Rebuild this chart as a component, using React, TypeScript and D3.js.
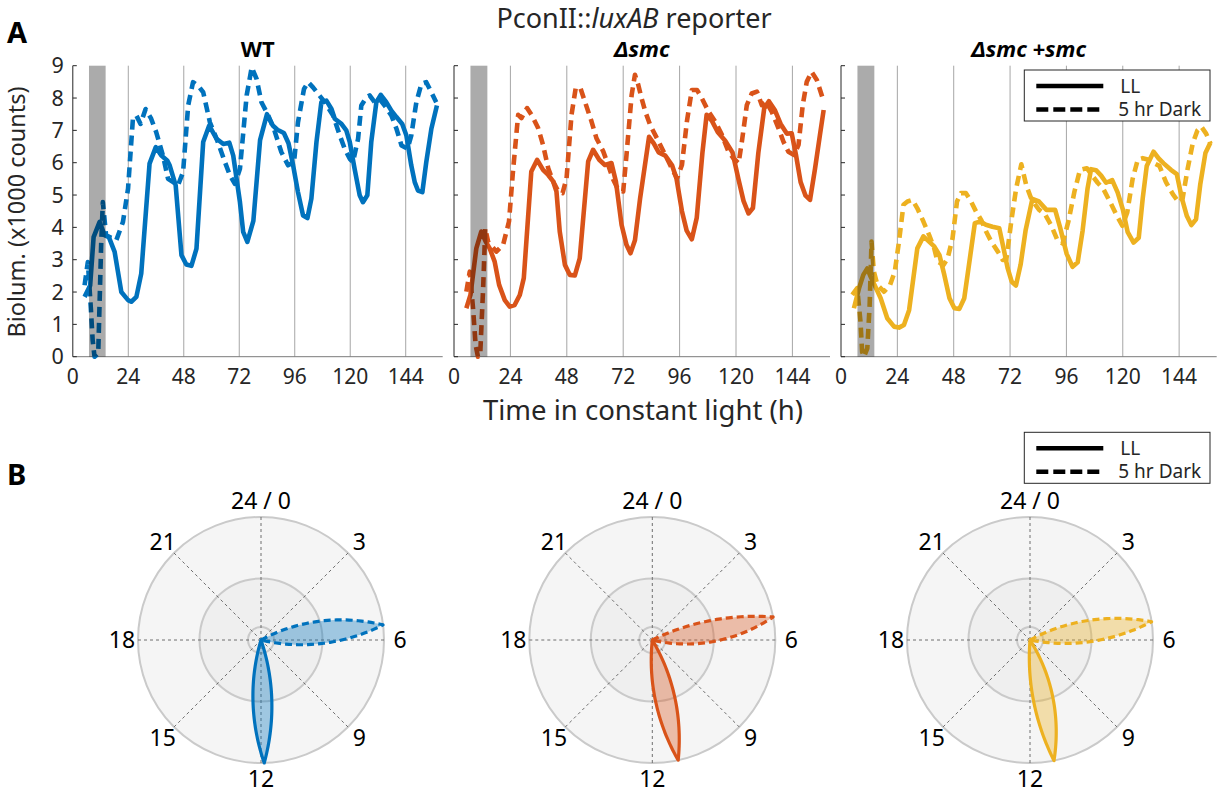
import React from 'react';
import * as d3 from 'd3';

type Pt = [number, number];

const COLORS = ['#0072BD', '#D95319', '#EDB120'];
const STRAINS = ['WT', 'Δsmc', 'Δsmc +smc'];
const X_TICKS = [0, 24, 48, 72, 96, 120, 144];
const Y_TICKS = [0, 1, 2, 3, 4, 5, 6, 7, 8, 9];
const DARK_WINDOW = [7, 14.2];
const CLOCK_TICKS = [0, 3, 6, 9, 12, 15, 18, 21];
const CLOCK_LABELS = ['24 / 0', '3', '6', '9', '12', '15', '18', '21'];

// time (h), bioluminescence (x1000 counts)
const wtLL: Pt[] = [[5.1,1.85],[7.5,2.2],[9.0,3.7],[11.6,4.17],[13.7,3.76],[15.6,3.7],[18.1,3.24],[21,2.0],[23.9,1.75],[25.3,1.7],[27.5,1.85],[29.6,2.57],[33.2,5.97],[35.9,6.48],[38.3,6.22],[40.8,6.07],[41.9,5.92],[44.5,5.3],[47,3.14],[49.1,2.85],[51.3,2.81],[53.5,3.34],[56.4,6.64],[59,7.15],[62.2,6.74],[65.1,6.58],[67.7,6.62],[69.4,6.22],[72.3,4.78],[73.7,3.86],[75.5,3.55],[78.1,4.2],[81,6.7],[84,7.5],[86.5,7.15],[88.5,7.02],[91.3,6.92],[93.3,6.6],[95.3,5.92],[97.4,5.09],[99.6,4.37],[101.5,4.29],[103.2,4.89],[105.4,6.64],[107.5,7.87],[109.7,7.92],[111.9,7.66],[113.3,7.36],[116.2,7.2],[118.3,7.0],[119.8,6.64],[121.9,5.81],[124.1,4.99],[125.5,4.78],[127.4,4.99],[129.1,6.64],[131.3,7.87],[133.2,8.1],[135.6,7.87],[137.8,7.61],[140,7.41],[142.5,7.2],[144.3,6.84],[146.4,5.92],[147.9,5.4],[149.3,5.14],[151.2,5.09],[152.9,6.02],[155.1,7.05],[157.5,7.77]];
const wtDark: Pt[] = [[5.1,2.21],[6.5,2.93],[7.8,1.5],[8.6,0.5],[9.4,0],[11.0,0.1],[12.3,3.55],[13.0,4.78],[14.4,3.75],[18.8,3.6],[21.7,4.17],[23.9,5.2],[26,7.36],[27.5,7.46],[29.3,7.2],[31.5,7.66],[33.9,7.36],[36.1,6.94],[39,6.22],[41.2,5.5],[43.4,5.4],[45.5,5.3],[47.7,5.71],[49.9,7.77],[52,8.49],[54.2,8.38],[56.4,8.18],[59.3,7.25],[62.2,6.74],[65.8,6.02],[68,5.6],[70.1,5.35],[72.3,5.81],[75.2,8.08],[77.4,8.95],[79.5,8.59],[81.6,7.87],[84.3,7.5],[87.2,7.0],[90.2,6.33],[93.1,5.92],[95.7,6.02],[97.4,7.25],[100,8.28],[101.8,8.49],[103.9,8.33],[106.1,8.13],[109,7.87],[112.6,7.46],[115.5,6.84],[117.6,6.43],[119.8,6.12],[121.2,6.02],[123.4,6.74],[124.8,7.77],[127,8.02],[128.4,8.08],[130.6,7.87],[132.7,7.97],[134.9,7.77],[137.8,7.46],[140,7.05],[142.2,6.53],[144.8,6.43],[146.4,6.84],[148.6,7.87],[150.8,8.44],[152.9,8.49],[155.1,8.18],[157.2,7.87]];
const smcLL: Pt[] = [[5.25,1.5],[7,1.91],[9.5,3.35],[11.6,3.87],[13.5,3.56],[15.2,3.35],[17.3,2.94],[19.2,2.22],[21.6,1.75],[23.7,1.55],[25.8,1.6],[28,1.91],[29.7,2.43],[32.9,5.73],[35.4,6.09],[37.9,5.78],[40.1,5.62],[42.2,5.42],[43.6,5.11],[45,3.87],[47.2,2.84],[49.3,2.53],[51.4,2.51],[53.5,3.04],[57.1,6.04],[59.2,6.4],[61.8,6.09],[64.2,5.93],[67,5.99],[68.9,5.42],[71.3,4.08],[73.4,3.46],[75.1,3.2],[77,3.6],[79.2,4.9],[83,6.8],[85,6.6],[87.1,6.32],[89.9,6.22],[92.8,5.92],[94.7,5.5],[97,4.5],[99,3.9],[101.2,3.63],[103.3,4.3],[105.7,6.3],[107.5,7.48],[109.7,7.3],[112.2,6.95],[115.4,6.68],[118.5,6.32],[121,5.5],[123.2,4.82],[125.3,4.43],[127.2,4.6],[129.5,6.3],[132,7.68],[134,7.9],[136.5,7.63],[139,7.2],[141.6,6.9],[143.7,6.91],[145.5,6.25],[147.5,5.4],[149.6,4.98],[151.5,4.85],[153.6,5.8],[155.7,6.85],[157.3,7.63]];
const smcDark: Pt[] = [[5.25,2.01],[6.7,2.63],[8.1,1.5],[9.2,0.36],[10.2,0],[11.2,0.15],[12.4,2.12],[13.3,3.97],[14.5,3.56],[18,3.25],[20.9,3.46],[23.4,4.18],[25.1,5.73],[27.3,7.48],[28.7,7.38],[31.1,7.69],[33.4,7.43],[35.8,7.07],[37.9,6.55],[40.1,5.83],[42.2,5.42],[44.4,5.11],[46.2,5.06],[47.9,5.52],[50,7.48],[51.8,8.31],[53.8,8.31],[55.7,7.89],[58.5,7.28],[60.6,6.76],[63.5,6.35],[65.6,5.93],[67.8,5.47],[69.9,5.16],[72,5.11],[73.4,6.24],[75.6,8.1],[77,8.72],[78.4,8.41],[79.8,8.0],[81.4,7.58],[83.5,7.16],[86.4,6.75],[89.9,6.24],[92.7,5.82],[94.9,5.52],[97,5.93],[99.1,7.27],[101.2,8.25],[103.4,8.25],[105.5,7.99],[108.3,7.58],[111.2,7.27],[114,6.86],[116.8,6.34],[119,6.13],[121.1,5.98],[122.5,6.65],[124.6,7.78],[126.7,8.14],[128.9,8.2],[131,7.78],[132.8,7.89],[135.2,7.58],[138.1,7.06],[140.2,6.65],[142.3,6.34],[144.7,6.24],[146.6,6.55],[148.4,7.78],[150.1,8.5],[152.2,8.81],[154.4,8.56],[156.9,7.99]];
const compLL: Pt[] = [[5.5,1.5],[7.7,2.12],[9.5,2.53],[11.2,2.73],[12.6,2.48],[14.3,2.22],[16.9,1.81],[19.7,1.19],[22.6,0.93],[24.7,0.9],[26.8,0.98],[29,1.44],[32.5,3.35],[35.1,3.72],[37.5,3.56],[39.7,3.41],[41.9,3.15],[44,2.53],[46.2,1.81],[48.3,1.5],[50.4,1.48],[52.5,1.81],[55.1,3.15],[57,4.13],[59.3,4.18],[61.7,4.08],[64.5,4.02],[67.4,3.97],[68.9,3.46],[71,2.73],[72.7,2.32],[74.5,2.2],[76.5,2.85],[78.6,3.9],[81.5,4.88],[84.3,4.8],[87.5,4.54],[91.2,4.54],[93.3,4.0],[96.1,3.18],[98.6,2.78],[100.8,2.92],[102.9,3.9],[105,5.2],[106.5,5.8],[108.6,5.77],[110.8,5.6],[112.9,5.38],[115.5,5.46],[117.8,5.08],[120,4.56],[122.1,3.85],[124.6,3.53],[126.8,3.68],[128.5,4.9],[130.2,5.9],[133.1,6.34],[135.3,6.13],[137.4,5.98],[140.5,5.78],[143,5.65],[145.1,4.92],[147.3,4.35],[149.2,4.07],[151.2,4.25],[153,5.33],[155.2,6.3],[157.3,6.62]];
const compDark: Pt[] = [[4.8,1.91],[6.9,2.12],[8.3,1.08],[9.0,0.15],[9.8,0],[11.2,0.26],[12.2,1.6],[13.0,3.56],[14.0,2.63],[15.5,2.22],[18.3,2.01],[20.9,2.22],[22.9,2.63],[24.7,3.56],[26.6,4.7],[28.3,4.8],[30.4,4.85],[32.5,4.59],[35.1,4.18],[37.5,3.77],[39.7,3.35],[41.1,2.94],[43.7,2.84],[45.4,3.04],[47.5,3.66],[49.4,4.8],[51.1,5.06],[53.2,5.06],[55.4,4.8],[57.5,4.49],[59.7,4.23],[61.8,3.87],[64,3.56],[66.8,3.25],[68.9,2.99],[70.4,3.0],[72.5,4.18],[74.6,5.21],[76.8,5.95],[78.9,5.3],[81.2,4.85],[84.3,4.55],[86.9,4.4],[89.6,4.05],[92.2,3.6],[94.4,3.5],[96.9,4.2],[99.4,5.1],[101.8,5.78],[104.7,5.83],[106.8,5.62],[109.3,5.38],[111.8,5.18],[114.5,4.8],[117.2,4.4],[119.8,4.05],[121.9,4.46],[124.2,5.5],[126.4,6.1],[128.5,6.14],[130.6,6.1],[132.8,6.0],[135.6,5.9],[138.4,5.4],[141.3,5.03],[143.9,4.77],[145.5,4.9],[147.6,5.8],[149.8,6.6],[151.8,7.0],[153.4,7.12],[155.5,6.9],[157.4,6.58]];

// phase petals (circadian hours): [start, peak, end]
const petalLL: number[][] = [[10.75, 11.9, 13.1], [9.95, 11.19, 12.4], [9.85, 11.25, 12.3]];
const petalDark: number[][] = [[4.1, 5.53, 6.9], [4.26, 5.28, 6.9], [4.1, 5.43, 6.75]];
const PETAL_PEAK = 1;

const LL_SERIES = [wtLL, smcLL, compLL];
const DARK_SERIES = [wtDark, smcDark, compDark];

const FONT = "'Noto Sans', 'Open Sans', sans-serif";
const AXIS = '#262626';

const PANEL_X: number[][] = [[72.8, 442.7], [454, 830], [841, 1216.7]];
const Y_RANGE = [356.7, 65.7];
const POLAR_C: number[][] = [[261, 640], [652.3, 640], [1030, 640]];
const R = 123;

function Legend({ x, y }: { x: number; y: number }) {
  return (
    <g transform={`translate(${x},${y})`}>
      <rect x={0} y={0} width={185.7} height={51} fill="#fff" stroke={AXIS} strokeWidth={1} />
      <line x1={12} x2={79} y1={16} y2={16} stroke="#000" strokeWidth={4.5} />
      <line x1={12} x2={79} y1={39.5} y2={39.5} stroke="#000" strokeWidth={4.5} strokeDasharray="12,5" />
      <text x={96} y={22.5} fontSize={19} fill={AXIS} fontFamily={FONT}>LL</text>
      <text x={94} y={46} fontSize={19} fill={AXIS} fontFamily={FONT}>5 hr Dark</text>
    </g>
  );
}

function TimePanel({ i }: { i: number }) {
  const x = d3.scaleLinear().domain([0, 160]).range(PANEL_X[i]);
  const y = d3.scaleLinear().domain([0, 9]).range(Y_RANGE);
  const line = d3.line<Pt>().x(d => x(d[0])).y(d => y(d[1]));
  const col = COLORS[i];
  return (
    <g>
      {X_TICKS.filter(t => t > 0).map(t => (
        <line key={t} x1={x(t)} x2={x(t)} y1={y(0)} y2={y(9)} stroke="#a6a6a6" strokeWidth={1} />
      ))}
      <line x1={x(0)} x2={x(160)} y1={y(0)} y2={y(0)} stroke="#7a7a7a" strokeWidth={1} />
      <line x1={x(0)} x2={x(0)} y1={y(0)} y2={y(9)} stroke={AXIS} strokeWidth={1} />
      {Y_TICKS.map(v => (
        <line key={v} x1={x(0)} x2={x(0) + 4} y1={y(v)} y2={y(v)} stroke={AXIS} strokeWidth={1} />
      ))}
      <path d={line(LL_SERIES[i]) || ''} fill="none" stroke={col} strokeWidth={4.6} strokeLinejoin="round" />
      <path d={line(DARK_SERIES[i]) || ''} fill="none" stroke={col} strokeWidth={4.6} strokeLinejoin="round" strokeDasharray="10,6" />
      <rect x={x(DARK_WINDOW[0])} y={y(9)} width={x(DARK_WINDOW[1]) - x(DARK_WINDOW[0])} height={y(0) - y(9)} fill="#000" fillOpacity={0.33} />
      {X_TICKS.map(t => (
        <text key={t} x={x(t)} y={384} textAnchor="middle" fontSize={21} fill={AXIS} fontFamily={FONT}>{t}</text>
      ))}
      {i === 0 && Y_TICKS.map(v => (
        <text key={v} x={x(0) - 9} y={y(v) + 7.5} textAnchor="end" fontSize={21.5} fill={AXIS} fontFamily={FONT}>{v}</text>
      ))}
      <text x={(PANEL_X[i][0] + PANEL_X[i][1]) / 2} y={57} textAnchor="middle" fontSize={22} fontWeight="bold"
        fontStyle={i === 0 ? 'normal' : 'italic'} fill="#000" fontFamily={FONT}>{STRAINS[i]}</text>
    </g>
  );
}

function petalPath(p: number[]): string {
  const deg = p.map(h => h * 15);
  const rs = d3.scaleLinear().domain(deg).range([0, PETAL_PEAK, 0]);
  const step = (deg[2] - deg[0]) / 80;
  const angles = d3.range(deg[0], deg[2] + step / 2, step).concat([deg[1]]).sort((a, b) => a - b);
  const lr = d3.lineRadial<number>().angle(a => (a * Math.PI) / 180).radius(a => rs(a) * R);
  return (lr(angles) || '') + 'Z';
}

function PolarPanel({ i }: { i: number }) {
  const [cx, cy] = POLAR_C[i];
  const col = COLORS[i];
  return (
    <g transform={`translate(${cx},${cy})`}>
      <circle r={R} fill="#f5f5f5" stroke="#cacaca" strokeWidth={2} />
      <circle r={R * 0.5} fill="#efefef" stroke="#cacaca" strokeWidth={2} />
      <circle r={13} fill="none" stroke="#cacaca" strokeWidth={2} />
      {CLOCK_TICKS.map(h => {
        const a = (h * 15 * Math.PI) / 180;
        return <line key={h} x1={0} y1={0} x2={R * Math.sin(a)} y2={-R * Math.cos(a)} stroke="#6e6e6e" strokeWidth={1} strokeDasharray="3,3" />;
      })}
      {CLOCK_TICKS.map((h, k) => {
        const a = (h * 15 * Math.PI) / 180;
        const lr = 139;
        return (
          <text key={h} x={lr * Math.sin(a)} y={-lr * Math.cos(a) + 8} textAnchor="middle" fontSize={23} fill="#000" fontFamily={FONT}>{CLOCK_LABELS[k]}</text>
        );
      })}
      <path d={petalPath(petalDark[i])} fill={col} fillOpacity={0.35} stroke={col} strokeWidth={3.2} strokeDasharray="7,4" strokeLinejoin="round" />
      <path d={petalPath(petalLL[i])} fill={col} fillOpacity={0.35} stroke={col} strokeWidth={3.2} strokeLinejoin="round" />
    </g>
  );
}

export default function App() {
  return (
    <svg width={1225} height={793} style={{ position: 'absolute', left: 0, top: 0, background: '#fff' }} fontFamily={FONT}>
      <rect width={1225} height={793} fill="#fff" />
      <text x={634} y={28} textAnchor="middle" fontSize={27} fill={AXIS} fontFamily={FONT}>
        PconII::<tspan fontStyle="italic">luxAB</tspan> reporter
      </text>
      {[0, 1, 2].map(i => <TimePanel key={i} i={i} />)}
      <text transform="translate(25,212) rotate(-90)" textAnchor="middle" fontSize={23.5} fill={AXIS} fontFamily={FONT}>Biolum. (x1000 counts)</text>
      <text x={643} y={420} textAnchor="middle" fontSize={27.5} fill={AXIS} fontFamily={FONT}>Time in constant light (h)</text>
      <Legend x={1024.3} y={70} />
      <text x={7} y={43} fontSize={29} fontWeight="bold" fill="#000" fontFamily={FONT}>A</text>
      <text x={7} y={485} fontSize={29} fontWeight="bold" fill="#000" fontFamily={FONT}>B</text>
      {[0, 1, 2].map(i => <PolarPanel key={i} i={i} />)}
      <Legend x={1024.3} y={432.3} />
    </svg>
  );
}
